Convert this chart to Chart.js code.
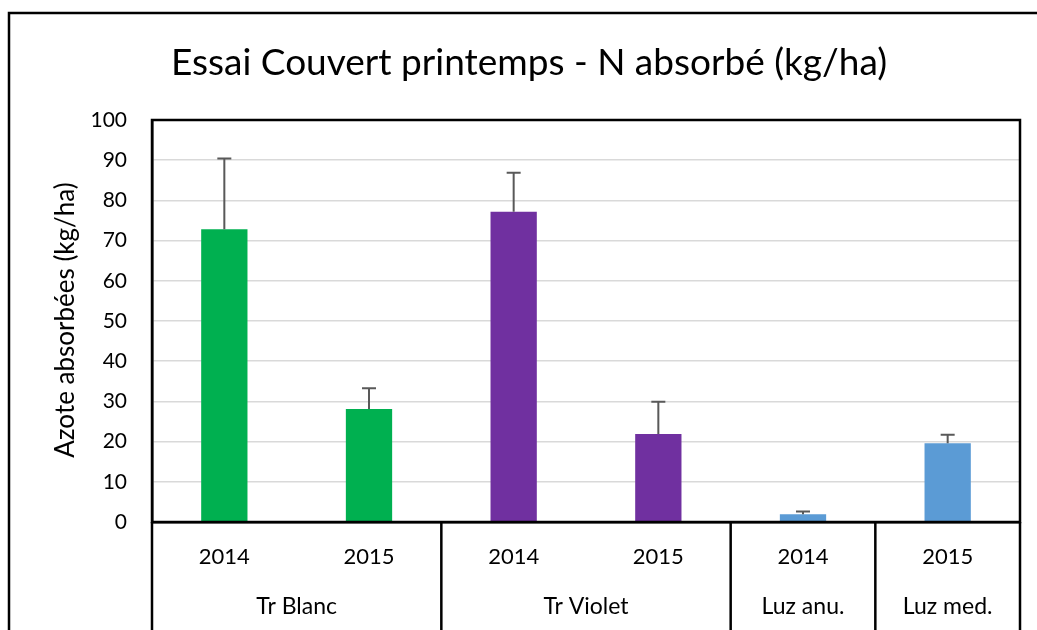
<!DOCTYPE html>
<html>
<head>
<meta charset="utf-8">
<script src="https://cdn.jsdelivr.net/npm/chart.js@4.4.0/dist/chart.umd.min.js"></script>
<style>
  html, body { margin: 0; padding: 0; background: #fff; }
  #wrap { width: 1037px; height: 630px; }
</style>
</head>
<body>
<div id="wrap"><canvas id="chart" width="1037" height="630"></canvas></div>
<script>
// ---- data ----
const years = ['2014', '2015', '2014', '2015', '2014', '2015'];
const groups = ['Tr Blanc', 'Tr Blanc', 'Tr Violet', 'Tr Violet', 'Luz anu.', 'Luz med.'];
const nAbsorbed = [72.8, 28.1, 77.2, 21.9, 1.9, 19.6];
const nError = [17.6, 5.2, 9.7, 8.0, 0.7, 2.1];
const barColors = ['#00B050', '#00B050', '#7030A0', '#7030A0', '#5B9BD5', '#5B9BD5'];
const yTicks = [0, 10, 20, 30, 40, 50, 60, 70, 80, 90, 100];

const titleText = 'Essai Couvert printemps - N absorbé (kg/ha)';
const yTitleText = 'Azote absorbées (kg/ha)';
const FONT = 'Lato, "Open Sans", sans-serif';

// ---- extra drawing: frame, error bars, two-level category axis ----
const decor = {
  id: 'decor',
  beforeDraw(chart) {
    const ctx = chart.ctx;
    ctx.save();
    ctx.fillStyle = '#fff';
    ctx.fillRect(0, 0, chart.width, chart.height);
    ctx.restore();
  },
  afterDatasetsDraw(chart) {
    const ctx = chart.ctx;
    const x = chart.scales.x, y = chart.scales.y;
    ctx.save();
    ctx.strokeStyle = '#595959';
    ctx.lineWidth = 2;
    nAbsorbed.forEach((v, i) => {
      const px = x.getPixelForValue(i);
      const top = y.getPixelForValue(v);
      const end = y.getPixelForValue(v + nError[i]);
      ctx.beginPath();
      ctx.moveTo(px, top);
      ctx.lineTo(px, end);
      ctx.moveTo(px - 7, end);
      ctx.lineTo(px + 7, end);
      ctx.stroke();
    });
    ctx.restore();
  },
  afterDraw(chart) {
    const ctx = chart.ctx;
    const a = chart.chartArea;
    const x = chart.scales.x;
    ctx.save();

    // outer chart frame
    ctx.strokeStyle = '#000';
    ctx.lineWidth = 2.5;
    ctx.beginPath();
    ctx.moveTo(9, chart.height + 5);
    ctx.lineTo(9, 13);
    ctx.lineTo(chart.width + 5, 13);
    ctx.stroke();

    // plot area border
    ctx.strokeRect(a.left, a.top, a.right - a.left, a.bottom - a.top);

    // group separators below the axis
    const bounds = [a.left];
    for (let i = 0; i < groups.length - 1; i++) {
      if (groups[i] !== groups[i + 1]) {
        bounds.push((x.getPixelForValue(i) + x.getPixelForValue(i + 1)) / 2);
      }
    }
    bounds.push(a.right);
    ctx.beginPath();
    bounds.forEach(b => {
      ctx.moveTo(b, a.bottom);
      ctx.lineTo(b, chart.height + 5);
    });
    ctx.stroke();

    // year labels
    ctx.fillStyle = '#000';
    ctx.textAlign = 'center';
    ctx.textBaseline = 'middle';
    ctx.font = '22px ' + FONT;
    years.forEach((yr, i) => ctx.fillText(yr, x.getPixelForValue(i), a.bottom + 35));

    // group labels
    ctx.font = '23px ' + FONT;
    let start = 0;
    for (let i = 0; i < groups.length; i++) {
      if (i === groups.length - 1 || groups[i] !== groups[i + 1]) {
        const cx = (x.getPixelForValue(start) + x.getPixelForValue(i)) / 2;
        ctx.fillText(groups[i], cx, a.bottom + 85);
        start = i + 1;
      }
    }

    // title
    ctx.font = '37px ' + FONT;
    ctx.fillText(titleText, 529, 63);

    // y axis title
    ctx.translate(66, 320);
    ctx.rotate(-Math.PI / 2);
    ctx.font = '26px ' + FONT;
    ctx.fillText(yTitleText, 0, 0);

    ctx.restore();
  }
};

new Chart(document.getElementById('chart'), {
  type: 'bar',
  data: {
    labels: years,
    datasets: [{
      data: nAbsorbed,
      backgroundColor: barColors,
      borderWidth: 0,
      barPercentage: 0.32,
      categoryPercentage: 1
    }]
  },
  options: {
    responsive: false,
    animation: false,
    events: [],
    layout: { padding: { top: 120, left: 0, right: 17, bottom: 0 } },
    plugins: {
      legend: { display: false },
      title: { display: false },
      tooltip: { enabled: false }
    },
    scales: {
      x: {
        grid: { display: false, drawTicks: false },
        border: { display: true, color: '#000', width: 2.5 },
        ticks: { display: false },
        afterFit: s => { s.height = 108; }
      },
      y: {
        min: 0,
        max: 100,
        afterBuildTicks: s => { s.ticks = yTicks.map(v => ({ value: v })); },
        grid: { color: '#D9D9D9', lineWidth: 1.5, drawTicks: false },
        border: { display: true, color: '#000', width: 2.5 },
        ticks: {
          color: '#000',
          padding: 25,
          font: { size: 21, family: FONT }
        },
        afterFit: s => { s.width = 152; }
      }
    }
  },
  plugins: [decor]
});
</script>
</body>
</html>
